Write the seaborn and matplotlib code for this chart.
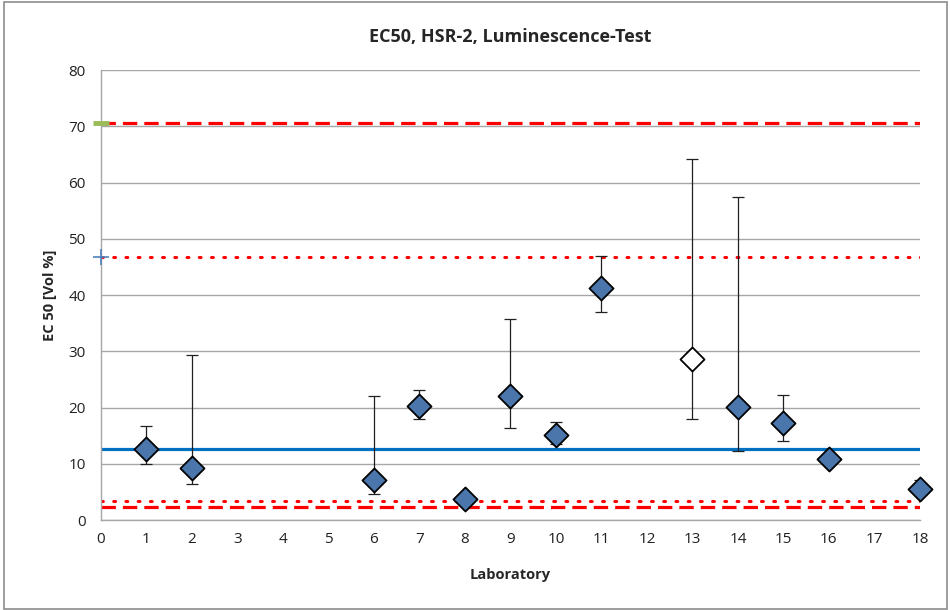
import seaborn as sns
import matplotlib.pyplot as plt
import pandas as pd
import numpy as np

# Laboratory results (EC50 in Vol %)
labs = [1, 2, 6, 7, 8, 9, 10, 11, 13, 14, 15, 16, 18]
ec50 = [12.6, 9.3, 7.2, 20.2, 3.7, 22.0, 15.1, 41.2, 28.7, 20.1, 17.3, 10.9, 5.5]
lower = [10.0, 6.4, 4.6, 18.0, 3.7, 16.3, 13.5, 37.0, 18.0, 12.3, 14.1, 10.9, 5.5]
upper = [16.8, 29.3, 22.1, 23.1, 3.7, 35.7, 17.4, 46.9, 64.2, 57.5, 22.2, 10.9, 7.1]
outlier = [False, False, False, False, False, False, False, False, True, False, False, False, False]

# Reference lines
mean_value = 12.6
tol_dashed = [2.3, 70.5]
tol_dotted = [3.3, 46.8]
x_range = [0, 18]

dados = pd.DataFrame({'Laboratory': labs, 'EC50': ec50, 'low': lower,
                      'high': upper, 'outlier': outlier})

sns.set_style("white")
plt.rcParams['font.family'] = ['Open Sans', 'DejaVu Sans']

fig = plt.figure(figsize=(9.5, 6.1), dpi=100)
ax = fig.add_axes([0.1063, 0.1475, 0.862, 0.7377])

# Figure border
fig.patches.append(plt.Rectangle((0.004, 0.002), 0.993, 0.995, transform=fig.transFigure,
                                 fill=False, edgecolor='#8c8c8c', linewidth=1.2))

# horizontal reference lines
for v in tol_dashed:
    ax.plot(x_range, [v, v], color='#ff0000', lw=2.3, ls=(0, (4.5, 2.2)), zorder=2)
for v in tol_dotted:
    ax.plot(x_range, [v, v], color='#ff0000', lw=2.2, ls=(0, (0.6, 3.4)),
            dash_capstyle='round', zorder=2)
ax.plot(x_range, [mean_value, mean_value], color='#0070c0', lw=2.3, zorder=2)

# error bars
yerr = np.array([dados['EC50'] - dados['low'], dados['high'] - dados['EC50']])
ax.errorbar(dados['Laboratory'], dados['EC50'], yerr=yerr, fmt='none',
            ecolor='#202020', elinewidth=0.9, capsize=4, capthick=0.9, zorder=3)

# points
normal = dados[~dados['outlier']]
outl = dados[dados['outlier']]
sns.scatterplot(x='Laboratory', y='EC50', data=normal, marker='D', s=150,
                color='#4a76ac', edgecolor='black', linewidth=1.3, ax=ax, zorder=4,
                clip_on=False)
sns.scatterplot(x='Laboratory', y='EC50', data=outl, marker='D', s=150,
                color='white', edgecolor='black', linewidth=1.3, ax=ax, zorder=4,
                clip_on=False)

# small markers on the y axis
ax.plot([0], [tol_dashed[1]], marker='_', markersize=11, mew=3.5, color='#9bbb59',
        clip_on=False, zorder=6)
ax.plot([0], [tol_dotted[1]], marker='+', markersize=11, mew=1.2, color='#4f81bd',
        clip_on=False, zorder=6)

ax.set_xlim(0, 18)
ax.set_ylim(0, 80)
ax.set_xticks(range(0, 19))
ax.set_yticks(range(0, 81, 10))
ax.yaxis.grid(True, color='#a6a6a6', lw=1)
ax.xaxis.grid(False)
ax.set_axisbelow(True)
for s in ['top', 'right']:
    ax.spines[s].set_visible(False)
for s in ['left', 'bottom']:
    ax.spines[s].set_color('#a6a6a6')
    ax.spines[s].set_linewidth(1)
ax.tick_params(axis='both', direction='out', length=5, color='#a6a6a6',
               labelsize=11, labelcolor='#202020', width=1)
ax.tick_params(axis='y', pad=6)

ax.set_title('EC50, HSR-2, Luminescence-Test', fontsize=13, fontweight='bold', pad=20)
ax.set_xlabel('Laboratory', fontsize=10.5, fontweight='bold', labelpad=15)
ax.set_ylabel('EC 50 [Vol %]', fontsize=10.5, fontweight='bold', labelpad=8)

fig.savefig('out.png', dpi=100)
